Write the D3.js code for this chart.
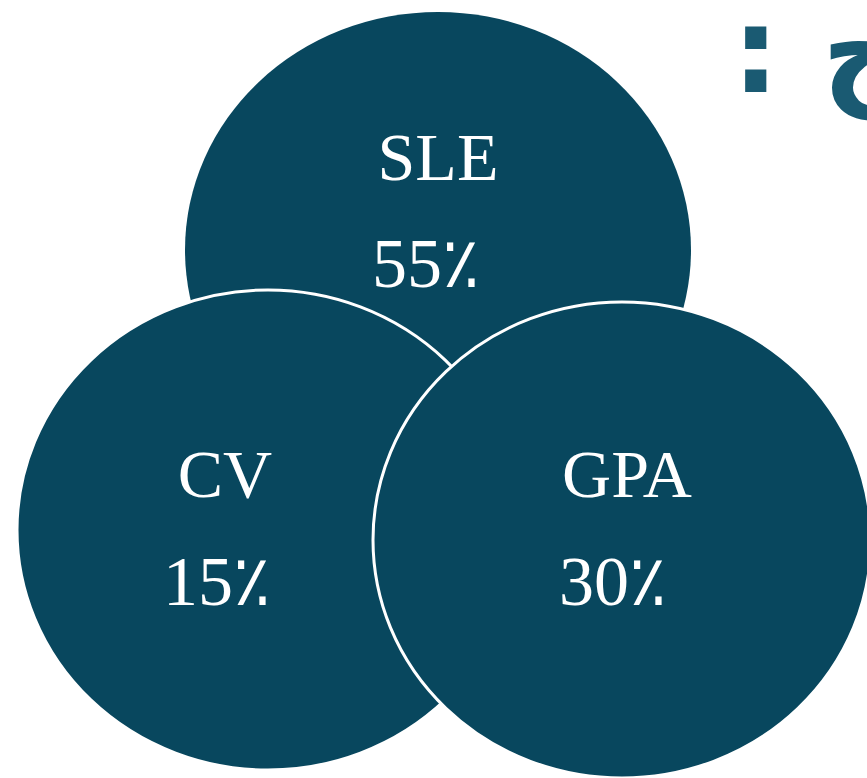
<!DOCTYPE html>
<html>
<head>
<meta charset="utf-8">
<script src="https://cdn.jsdelivr.net/npm/d3@7"></script>
<style>
  html, body { margin: 0; padding: 0; background: #fff; overflow: hidden; }
</style>
</head>
<body>
<svg></svg>
<script>
const width = 867;
const height = 778;

// data
const labels = ["SLE", "CV", "GPA"];
const values = [55, 15, 30];
const title = "ج :";

// layout of the three bubbles (drawing order: top one first)
const LAYOUT = [
  { cx: 438, cy: 250, rx: 253, ry: 238, ring: false, lx: 438, ly: 180, vx: 426, vy: 287 },
  { cx: 268, cy: 530, rx: 251, ry: 240, ring: true,  lx: 225, ly: 497, vx: 217, vy: 605 },
  { cx: 622, cy: 540, rx: 249, ry: 238, ring: true,  lx: 627, ly: 497, vx: 613, vy: 605 }
];

const FILL = "#08475e";

const svg = d3.select("svg")
  .attr("width", width)
  .attr("height", height);

const data = labels.map((l, i) => ({ label: l, value: values[i], ...LAYOUT[i] }));

/* bubbles */
const g = svg.append("g")
  .selectAll("g")
  .data(data)
  .enter()
  .append("g");

g.append("ellipse")
  .attr("cx", d => d.cx)
  .attr("cy", d => d.cy)
  .attr("rx", d => d.rx)
  .attr("ry", d => d.ry)
  .attr("fill", FILL)
  .attr("stroke", d => d.ring ? "#fff" : "none")
  .attr("stroke-width", 3);

g.append("text")
  .attr("x", d => d.lx)
  .attr("y", d => d.ly)
  .attr("text-anchor", "middle")
  .style("font-family", "'Liberation Serif', 'Times New Roman', serif")
  .style("font-size", "68px")
  .style("fill", "#fff")
  .text(d => d.label);

g.append("text")
  .attr("x", d => d.vx)
  .attr("y", d => d.vy)
  .attr("text-anchor", "middle")
  .style("font-family", "'Liberation Serif', 'Times New Roman', serif")
  .style("font-size", "70px")
  .style("fill", "#fff")
  .text(d => d.value + "٪");

/* heading, cut at the right edge like in the slide */
svg.append("text")
  .attr("x", 908)
  .attr("y", 92)
  .attr("direction", "rtl")
  .attr("text-anchor", "start")
  .style("font-family", "'DejaVu Sans', sans-serif")
  .style("font-weight", "bold")
  .style("font-size", "120px")
  .style("fill", "#1a5a72")
  .text(title);
</script>
</body>
</html>
